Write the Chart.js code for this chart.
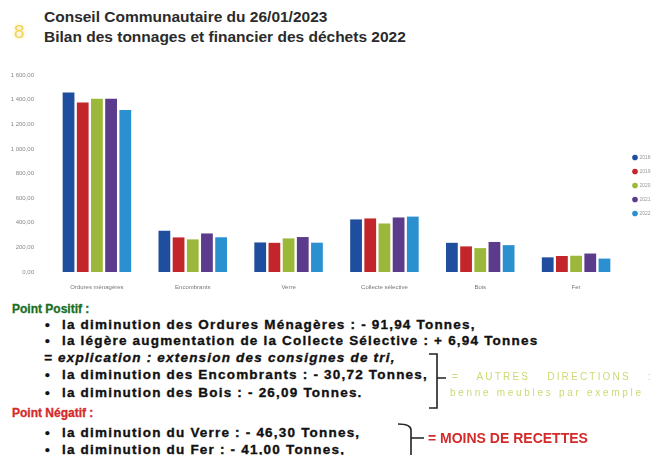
<!DOCTYPE html>
<html><head><meta charset="utf-8">
<script src="https://cdn.jsdelivr.net/npm/chart.js@4/dist/chart.umd.min.js"></script>
<style>
body{margin:0;width:658px;height:455px;background:#fff;position:relative;overflow:hidden;font-family:"Liberation Sans",Arial,sans-serif;}
.t{position:absolute;white-space:nowrap;line-height:1;transform:translateY(-50%);}
.b{font-weight:bold;font-size:13.5px;color:#111;letter-spacing:1.2px;-webkit-text-stroke:0.35px #111;}
#cw{position:absolute;left:0;top:60px;}
</style></head><body>
<div class="t" style="left:14px;top:31px;font-size:19px;color:#f1d45a;text-shadow:0 0 5px #f8ea9c;">8</div>
<div class="t" style="left:44px;top:17px;font-size:15.5px;font-weight:bold;color:#2b2b2b;">Conseil Communautaire du 26/01/2023</div>
<div class="t" style="left:44px;top:37px;font-size:15.5px;font-weight:bold;color:#2b2b2b;">Bilan des tonnages et financier des déchets 2022</div>
<canvas id="cw" width="658" height="236"></canvas>

<div class="t" style="left:12px;top:309px;font-size:12px;font-weight:bold;color:#1a6f22;-webkit-text-stroke:0.3px #1a6f22;">Point Positif :</div>
<div class="t b" style="left:45px;top:325px;">•</div>
<div class="t b" style="left:62px;top:325px;">la diminution des Ordures Ménagères : - 91,94 Tonnes,</div>
<div class="t b" style="left:45px;top:341px;">•</div>
<div class="t b" style="left:62px;top:341px;">la légère augmentation de la Collecte Sélective : + 6,94 Tonnes</div>
<div class="t b" style="left:44px;top:358px;font-style:italic;">= explication : extension des consignes de tri,</div>
<div class="t b" style="left:45px;top:375px;">•</div>
<div class="t b" style="left:62px;top:375px;">la diminution des Encombrants : - 30,72 Tonnes,</div>
<div class="t b" style="left:45px;top:393px;">•</div>
<div class="t b" style="left:62px;top:393px;">la diminution des Bois : - 26,09 Tonnes.</div>
<div class="t" style="left:12px;top:413px;font-size:12px;font-weight:bold;color:#d42a2a;-webkit-text-stroke:0.3px #d42a2a;">Point Négatif :</div>
<div class="t b" style="left:45px;top:433px;">•</div>
<div class="t b" style="left:62px;top:433px;">la diminution du Verre : - 46,30 Tonnes,</div>
<div class="t b" style="left:45px;top:450px;">•</div>
<div class="t b" style="left:62px;top:450px;">la diminution du Fer : - 41,00 Tonnes,</div>

<svg style="position:absolute;left:0;top:0" width="658" height="455">
<path d="M429 354 L437 354 L437 408 L429 408 M437 378 L446 378" fill="none" stroke="#222" stroke-width="1.6"/>
<path d="M398 424 Q411 424 411 430 L411 455 M411 438 L424 438" fill="none" stroke="#222" stroke-width="1.6"/>
</svg>
<div class="t" style="left:452px;top:377px;font-size:10px;color:#cfd875;letter-spacing:2.2px;word-spacing:12px;">= AUTRES DIRECTIONS :</div>
<div class="t" style="left:450px;top:393px;font-size:10px;color:#cfd875;letter-spacing:2.7px;">benne meubles par exemple</div>
<div class="t" style="left:428px;top:438px;font-size:14px;color:#d42a2a;font-family:'Liberation Sans Narrow','Liberation Sans',sans-serif;font-weight:bold;">= MOINS DE RECETTES</div>

<script>
const categories = ["Ordures ménagères","Encombrants","Verre","Collecte sélective","Bois","Fer"];
const years = ["2018","2019","2020","2021","2022"];
const v2018 = [1458,335,240,427,237,119];
const v2019 = [1376,281,237,435,208,130];
const v2020 = [1407,265,273,394,194,132];
const v2021 = [1407,313,284,443,244,150];
const v2022 = [1315,282,238,450,218,109];
const yMax = 1600;
const yStep = 200;
const colors = ['#1f4e9e','#c2262b','#9cb83a','#5c3b8c','#2a90cf'];
const series = [v2018,v2019,v2020,v2021,v2022];

function fmt(v){
  const s = Number(v).toFixed(2).split('.');
  const i = s[0].replace(/\B(?=(\d{3})+(?!\d))/g,' ');
  return i + ',' + s[1];
}

const legendWidth = {
  id:'legendWidth',
  afterInit(chart){
    const lg = chart.legend;
    if(!lg) return;
    const orig = lg.fit.bind(lg);
    lg.fit = function(){ orig(); this.width = 34; };
  }
};

new Chart(document.getElementById('cw'),{
  type:'bar',
  data:{
    labels:categories,
    datasets:series.map((d,i)=>({label:years[i],data:d,backgroundColor:colors[i],borderWidth:0,categoryPercentage:0.74,barPercentage:0.83}))
  },
  options:{
    responsive:false,animation:false,
    layout:{padding:{top:15,right:0,left:0,bottom:0}},
    plugins:{
      legend:{position:'right',align:'center',labels:{boxWidth:4,boxHeight:4,usePointStyle:true,pointStyle:'circle',font:{size:5,family:'Liberation Sans'},color:'#999',padding:9}},
      tooltip:{enabled:false}
    },
    scales:{
      x:{grid:{display:false},border:{display:false},ticks:{font:{size:6,family:'Liberation Sans'},color:'#777',maxRotation:0,autoSkip:false,padding:4},afterFit(s){s.height=24;}},
      y:{min:0,max:yMax,grid:{display:false},border:{display:false},ticks:{stepSize:yStep,font:{size:6,family:'Liberation Sans'},color:'#888',callback:fmt,padding:7},afterFit(s){s.width=49;}}
    }
  },
  plugins:[legendWidth]
});
</script>
</body></html>
